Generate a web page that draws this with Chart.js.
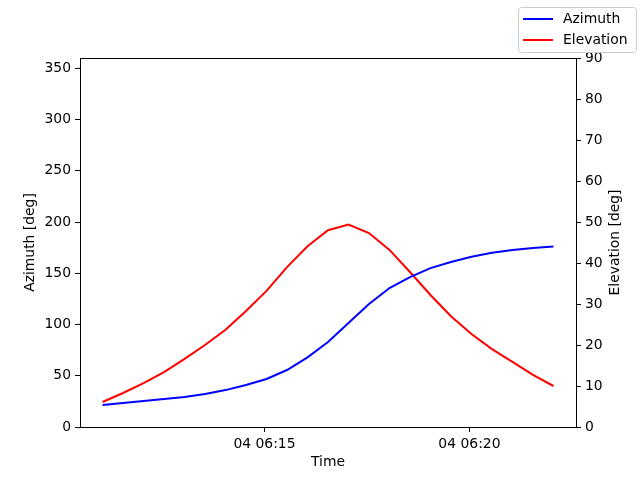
<!DOCTYPE html>
<html lang="en">
<head>
    <meta charset="UTF-8">
    <title>Azimuth / Elevation</title>
    <script src="https://cdn.jsdelivr.net/npm/chart.js"></script>
    <style>
        body { margin: 0; background: #fff; }
    </style>
</head>
<body>
    <canvas id="grafico" width="640" height="480"></canvas>
</body>
</html>

<script>
    // samples every 30 s, day 04
    const horarios = ['06:11:03', '06:11:33', '06:12:03', '06:12:33', '06:13:03', '06:13:33', '06:14:03', '06:14:33',
        '06:15:03', '06:15:33', '06:16:03', '06:16:33', '06:17:03', '06:17:33', '06:18:03', '06:18:33',
        '06:19:03', '06:19:33', '06:20:03', '06:20:33', '06:21:03', '06:21:33', '06:22:03'];
    const azimute = [21.5, 23.4, 25.4, 27.3, 29.3, 32.2, 36, 41, 46.8, 55.6, 68, 83, 101.5, 120, 135.6, 146.3,
        155, 161, 166, 170, 172.7, 174.6, 176];
    const elevacao = [6.1, 8.3, 10.7, 13.4, 16.6, 20, 23.7, 28.3, 33.2, 39, 44.1, 48, 49.4, 47.3, 43.2, 37.8,
        32.2, 27, 22.7, 19, 15.9, 12.7, 10];
    const ticksTempo = ['04 06:15', '04 06:20'];
    const ticksAzimute = [0, 50, 100, 150, 200, 250, 300, 350];

    // minutes after 06:00
    function minutos(h) {
        const p = h.split(':').map(Number);
        return (p[0] - 6) * 60 + p[1] + p[2] / 60;
    }
    const tickMin = ticksTempo.map(t => minutos(t.split(' ')[1] + ':00'));
    const xs = horarios.map(minutos);
    const margem = (xs[xs.length - 1] - xs[0]) * 0.05;

    const fonte = { family: 'DejaVu Sans', size: 13.9 };

    const extras = {
        id: 'extras',
        afterDraw(chart) {
            const ctx = chart.ctx;
            const a = chart.chartArea;
            ctx.save();
            ctx.strokeStyle = 'black';
            ctx.lineWidth = 1;
            ctx.beginPath();
            ctx.moveTo(a.left, a.top + 0.5);
            ctx.lineTo(a.right, a.top + 0.5);
            ctx.stroke();

            // axis titles
            ctx.font = '13.9px "DejaVu Sans"';
            ctx.fillStyle = 'black';
            ctx.textAlign = 'center';
            ctx.textBaseline = 'middle';
            ctx.fillText('Time', (a.left + a.right) / 2, 462);
            const meio = (a.top + a.bottom) / 2;
            [['Azimuth [deg]', 30.5], ['Elevation [deg]', 615]].forEach(([txt, x]) => {
                ctx.save();
                ctx.translate(x, meio);
                ctx.rotate(-Math.PI / 2);
                ctx.fillText(txt, 0, 0);
                ctx.restore();
            });

            // legend box top right
            const x0 = 518.5, y0 = 7.5, w = 118, h = 45;
            ctx.fillStyle = 'rgba(255,255,255,0.8)';
            ctx.strokeStyle = '#cccccc';
            ctx.beginPath();
            ctx.roundRect(x0, y0, w, h, 3);
            ctx.fill();
            ctx.stroke();
            ctx.textAlign = 'left';
            chart.data.datasets.forEach((ds, i) => {
                const y = 19 + i * 21;
                ctx.strokeStyle = ds.borderColor;
                ctx.lineWidth = 2;
                ctx.beginPath();
                ctx.moveTo(523, y);
                ctx.lineTo(553, y);
                ctx.stroke();
                ctx.fillStyle = 'black';
                ctx.fillText(ds.label, 563, y);
            });
            ctx.restore();
        }
    };

    new Chart(document.getElementById('grafico'), {
        type: 'line',
        data: {
            datasets: [{
                label: 'Azimuth',
                data: xs.map((x, i) => ({ x: x, y: azimute[i] })),
                borderColor: 'blue',
                borderWidth: 2,
                pointRadius: 0,
                tension: 0,
                yAxisID: 'y'
            }, {
                label: 'Elevation',
                data: xs.map((x, i) => ({ x: x, y: elevacao[i] })),
                borderColor: 'red',
                borderWidth: 2,
                pointRadius: 0,
                tension: 0,
                yAxisID: 'y2'
            }]
        },
        options: {
            responsive: false,
            animation: false,
            devicePixelRatio: 1,
            layout: { padding: { top: 58, left: 0, right: 0, bottom: 0 } },
            plugins: { legend: { display: false }, tooltip: { enabled: false } },
            scales: {
                x: {
                    type: 'linear',
                    min: xs[0] - margem,
                    max: xs[xs.length - 1] + margem,
                    afterBuildTicks: ax => { ax.ticks = tickMin.map(v => ({ value: v })); },
                    afterFit: ax => { ax.height = 53; },
                    ticks: {
                        color: 'black', font: fonte, padding: 4, maxRotation: 0,
                        callback: (v) => ticksTempo[tickMin.indexOf(v)]
                    },
                    grid: { drawOnChartArea: false, tickLength: 5, color: 'black' },
                    border: { color: 'black' }
                },
                y: {
                    position: 'left',
                    min: 0, max: 360,
                    afterBuildTicks: ax => { ax.ticks = ticksAzimute.map(v => ({ value: v })); },
                    ticks: { color: 'black', font: fonte, padding: 4 },
                    afterFit: ax => { ax.width = 80; },
                    grid: { drawOnChartArea: false, tickLength: 5, color: 'black' },
                    border: { color: 'black' }
                },
                y2: {
                    position: 'right',
                    min: 0, max: 90,
                    ticks: { stepSize: 10, color: 'black', font: fonte, padding: 4 },
                    afterFit: ax => { ax.width = 64; },
                    grid: { drawOnChartArea: false, tickLength: 5, color: 'black' },
                    border: { color: 'black' }
                }
            }
        },
        plugins: [extras]
    });
</script>
